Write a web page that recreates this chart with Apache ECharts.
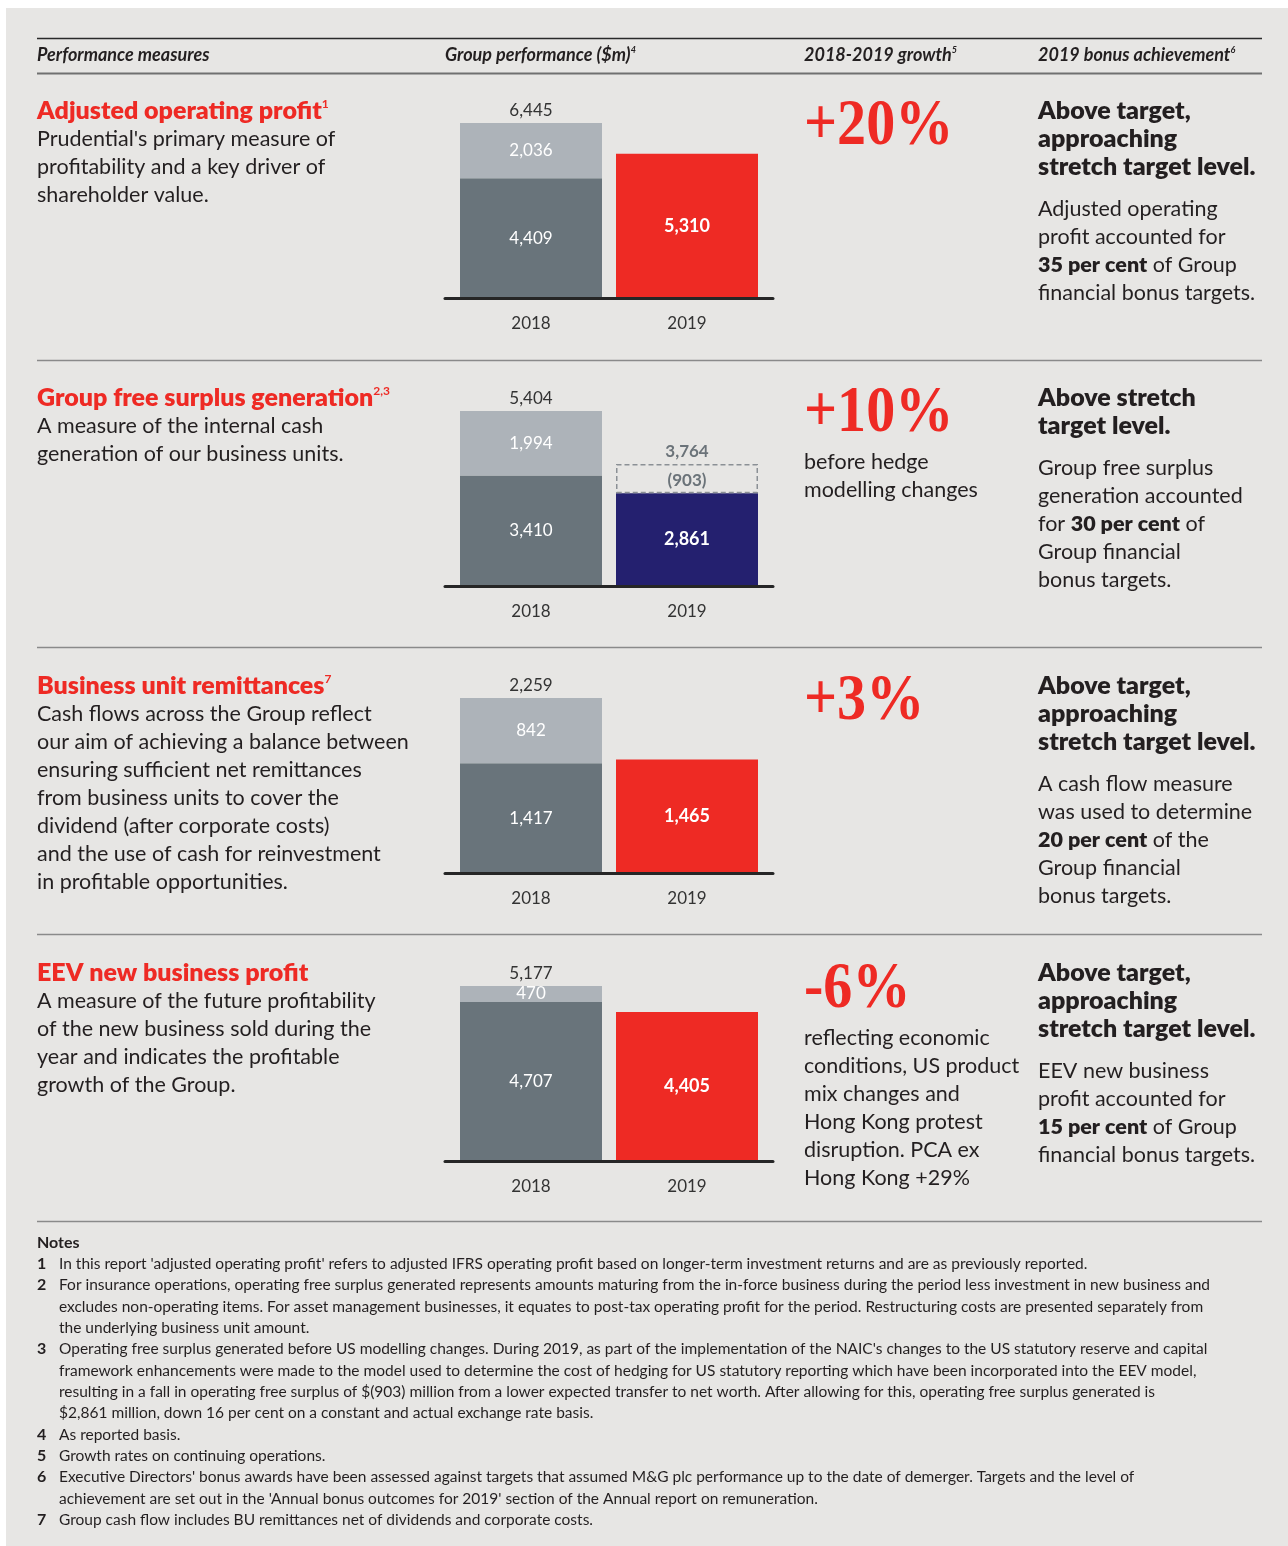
<!DOCTYPE html>
<html>
<head>
<meta charset="utf-8">
<title>Performance measures</title>
<script src="https://cdn.jsdelivr.net/npm/echarts@6/dist/echarts.min.js"></script>
<style>
  html, body { margin: 0; padding: 0; background: #ffffff; }
  #page { position: relative; width: 1288px; height: 1546px; overflow: hidden; }
  #paper { position: absolute; left: 6px; top: 8px; right: 0; bottom: 0; background: #e7e6e4; }
  #main { position: absolute; left: 0; top: 0; width: 1288px; height: 1546px; }
</style>
</head>
<body>
<div id="page">
  <div id="paper"></div>
  <div id="main"></div>
</div>
<script>
// ---- Data ($m) ----
const years = ['2018', '2019'];

// Adjusted operating profit: 2018 split into two parts, 2019 single bar
const aopLower = [4409, 5310];
const aopUpper = [2036, null];

// Group free surplus generation: 2019 shown after hedge modelling change
const fsgLower = [3410, 2861];
const fsgUpper = [1994, null];
const fsgHedge = [null, 903];

// Business unit remittances
const burLower = [1417, 1465];
const burUpper = [842, null];

// EEV new business profit
const eevLower = [4707, 4405];
const eevUpper = [470, null];

// Growth 2018-2019
const growthLabels = ['+20%', '+10%', '+3%', '-6%'];

// ---- Styling ----
const SANS = 'Lato, "Open Sans", "Noto Sans", sans-serif';
const SERIF = '"Liberation Serif", "DejaVu Serif", serif';
const INK = '#231f20';
const RED = '#ee2a24';
const NAVY = '#24206f';
const DARK = '#69747b';
const LIGHT = '#adb3b9';
const DASH = '#8b9095';
const fmt = v => v.toLocaleString('en-US');

const panels = [
  { lower: aopLower, upper: aopUpper, hedge: null, col2019: RED, base: 298 },
  { lower: fsgLower, upper: fsgUpper, hedge: fsgHedge, col2019: NAVY, base: 586 },
  { lower: burLower, upper: burUpper, hedge: null, col2019: RED, base: 873 },
  { lower: eevLower, upper: eevUpper, hedge: null, col2019: RED, base: 1161 }
];
const BAR_H = 175;

const grid = [], xAxis = [], yAxis = [], series = [];

panels.forEach((p, i) => {
  const stackTotal = j => (p.lower[j] || 0) + (p.upper[j] || 0) + (p.hedge ? (p.hedge[j] || 0) : 0);
  const maxTotal = Math.max(stackTotal(0), stackTotal(1));

  // bar grid
  grid.push({ left: 453, width: 312, top: p.base - BAR_H, height: BAR_H });
  xAxis.push({
    type: 'category', gridIndex: i, data: years,
    axisLine: { show: false }, axisTick: { show: false },
    axisLabel: { fontSize: 17, color: '#333', margin: 17, fontFamily: SANS }
  });
  yAxis.push({ type: 'value', gridIndex: i, min: 0, max: maxTotal, show: false, splitLine: { show: false } });

  const stack = 's' + i;
  series.push({
    type: 'bar', xAxisIndex: i, yAxisIndex: i, stack, barWidth: 142,
    data: p.lower.map((v, j) => ({
      value: v,
      itemStyle: { color: j === 0 ? DARK : p.col2019 },
      label: { fontWeight: j === 0 ? 'normal' : 'bold', fontSize: j === 0 ? 17 : 18 }
    })),
    label: { show: true, position: 'inside', color: '#fff', fontSize: 17, fontFamily: SANS, formatter: d => fmt(d.value) }
  });
  series.push({
    type: 'bar', xAxisIndex: i, yAxisIndex: i, stack, barWidth: 142,
    data: p.upper,
    itemStyle: { color: LIGHT },
    label: { show: true, position: 'inside', color: '#fff', fontSize: 17, fontFamily: SANS, formatter: d => fmt(d.value) }
  });
  if (p.hedge) {
    series.push({
      type: 'bar', xAxisIndex: i, yAxisIndex: i, stack, barWidth: 142,
      data: p.hedge,
      itemStyle: { color: 'rgba(0,0,0,0)', borderColor: DASH, borderWidth: 1.5, borderType: [5, 3] },
      label: { show: true, position: 'inside', offset: [0, 2], color: '#6b7379', fontSize: 17, fontWeight: 'bold', fontFamily: SANS,
        formatter: d => '(' + fmt(d.value) + ')' }
    });
  }
  // zero-height cap carrying the stack total above each stacked column
  series.push({
    type: 'bar', xAxisIndex: i, yAxisIndex: i, stack, barWidth: 142,
    data: years.map((y, j) => {
      if (j === 0) return { value: 0 };
      if (p.hedge) return { value: 0, label: { color: '#6b7379', fontWeight: 'bold', distance: 4 } };
      return null;
    }),
    itemStyle: { color: 'rgba(0,0,0,0)' },
    label: { show: true, position: 'top', distance: 4, color: '#333', fontSize: 17, fontFamily: SANS,
      formatter: d => fmt(stackTotal(d.dataIndex)) }
  });
});

// baseline under each chart (slightly wider than the bar area)
panels.forEach((p, i) => {
  const gi = panels.length + i;
  grid.push({ left: 445, width: 328, top: p.base - BAR_H, height: BAR_H });
  xAxis.push({
    type: 'category', gridIndex: gi, data: [''], z: 10,
    axisLine: { show: true, lineStyle: { color: '#262626', width: 3 } },
    axisTick: { show: false }, axisLabel: { show: false }
  });
  yAxis.push({ type: 'value', gridIndex: gi, min: 0, max: 1, show: false, splitLine: { show: false } });
});

// ---- Text blocks ----
const graphics = [];
function text(x, y, str, opt) {
  const o = Object.assign({}, opt || {});
  const scaleX = o.scaleX; delete o.scaleX;
  const style = Object.assign({
    text: str, fill: INK, fontFamily: SANS, fontSize: 21.5, fontWeight: 'normal',
    verticalAlign: 'middle', align: 'left'
  }, o);
  const el = { type: 'text', x, y, z: 20, style };
  if (scaleX) el.scaleX = scaleX;
  graphics.push(el);
}
function rule(y, color, w) {
  graphics.push({ type: 'line', z: 5, shape: { x1: 37, y1: y, x2: 1262, y2: y }, style: { stroke: color, lineWidth: w } });
}

const supStyle = (fill, size) => ({ fontSize: size, fontFamily: SANS, fontWeight: 'bold', fill, verticalAlign: 'top' });

// header
rule(38.5, '#2a2a2a', 1.5);
rule(73.5, '#707070', 2);
const headStyle = { fontSize: 18, fontWeight: 'bold', fontStyle: 'italic', rich: { sup: Object.assign(supStyle(INK, 9), { fontStyle: 'italic' }) } };
text(37, 55, 'Performance measures', headStyle);
text(445, 55, 'Group performance ($m){sup|4}', headStyle);
text(804, 55, '2018-2019 growth{sup|5}', headStyle);
text(1038, 55, '2019 bonus achievement{sup|6}', headStyle);

[360.5, 647.5, 934.5, 1221.5].forEach(y => rule(y, '#8a8a8a', 1.5));

const sections = [
  {
    y: 111, growthY: 125,
    title: 'Adjusted operating profit{sup|1}',
    desc: ["Prudential's primary measure of", 'profitability and a key driver of', 'shareholder value.'],
    sub: [],
    bold: ['Above target,', 'approaching', 'stretch target level.'],
    body: ['Adjusted operating', 'profit accounted for', '{b|35 per cent} of Group', 'financial bonus targets.']
  },
  {
    y: 398, growthY: 412,
    title: 'Group free surplus generation{sup|2,3}',
    desc: ['A measure of the internal cash', 'generation of our business units.'],
    sub: ['before hedge', 'modelling changes'],
    bold: ['Above stretch', 'target level.'],
    body: ['Group free surplus', 'generation accounted', 'for {b|30 per cent} of', 'Group financial', 'bonus targets.']
  },
  {
    y: 686, growthY: 700,
    title: 'Business unit remittances{sup|7}',
    desc: ['Cash flows across the Group reflect', 'our aim of achieving a balance between', 'ensuring sufficient net remittances',
      'from business units to cover the', 'dividend (after corporate costs)', 'and the use of cash for reinvestment', 'in profitable opportunities.'],
    sub: [],
    bold: ['Above target,', 'approaching', 'stretch target level.'],
    body: ['A cash flow measure', 'was used to determine', '{b|20 per cent} of the', 'Group financial', 'bonus targets.']
  },
  {
    y: 973, growthY: 988,
    title: 'EEV new business profit',
    desc: ['A measure of the future profitability', 'of the new business sold during the', 'year and indicates the profitable', 'growth of the Group.'],
    sub: ['reflecting economic', 'conditions, US product', 'mix changes and', 'Hong Kong protest', 'disruption. PCA ex', 'Hong Kong +29%'],
    bold: ['Above target,', 'approaching', 'stretch target level.'],
    body: ['EEV new business', 'profit accounted for', '{b|15 per cent} of Group', 'financial bonus targets.']
  }
];
const LH = 28;
const bodyRich = { b: { fontSize: 21.5, fontFamily: SANS, fontWeight: 800, fill: INK } };

sections.forEach((s, i) => {
  text(37, s.y, s.title, { fontSize: 25, fontWeight: 800, fill: RED, rich: { sup: supStyle(RED, 12) } });
  s.desc.forEach((l, k) => text(37, s.y + LH * (k + 1), l));
  text(804, s.growthY + 2, growthLabels[i], { fontFamily: SERIF, fontSize: 66, fontWeight: 'bold', fill: RED, scaleX: 0.88 });
  s.sub.forEach((l, k) => text(804, s.growthY + 50 + LH * k, l));
  s.bold.forEach((l, k) => text(1038, s.y + LH * k, l, { fontSize: 25, fontWeight: 800 }));
  const bodyTop = s.y + LH * (s.bold.length - 1) + 42;
  s.body.forEach((l, k) => text(1038, bodyTop + LH * k, l, { rich: bodyRich }));
});

// notes
const notes = [
  ['1', ["In this report 'adjusted operating profit' refers to adjusted IFRS operating profit based on longer-term investment returns and are as previously reported."]],
  ['2', ['For insurance operations, operating free surplus generated represents amounts maturing from the in-force business during the period less investment in new business and',
         'excludes non-operating items. For asset management businesses, it equates to post-tax operating profit for the period. Restructuring costs are presented separately from',
         'the underlying business unit amount.']],
  ['3', ["Operating free surplus generated before US modelling changes. During 2019, as part of the implementation of the NAIC's changes to the US statutory reserve and capital",
         'framework enhancements were made to the model used to determine the cost of hedging for US statutory reporting which have been incorporated into the EEV model,',
         'resulting in a fall in operating free surplus of $(903) million from a lower expected transfer to net worth. After allowing for this, operating free surplus generated is',
         '$2,861 million, down 16 per cent on a constant and actual exchange rate basis.']],
  ['4', ['As reported basis.']],
  ['5', ['Growth rates on continuing operations.']],
  ['6', ["Executive Directors' bonus awards have been assessed against targets that assumed M&G plc performance up to the date of demerger. Targets and the level of",
         "achievement are set out in the 'Annual bonus outcomes for 2019' section of the Annual report on remuneration."]],
  ['7', ['Group cash flow includes BU remittances net of dividends and corporate costs.']]
];
text(37, 1243, 'Notes', { fontSize: 16, fontWeight: 'bold' });
let ny = 1264;
const NLH = 21.33;
notes.forEach(([num, lines]) => {
  text(37, ny, num, { fontSize: 16, fontWeight: 'bold' });
  lines.forEach((l, k) => text(59, ny + NLH * k, l, { fontSize: 15.5 }));
  ny += NLH * lines.length;
});

const chart = echarts.init(document.getElementById('main'), null, { renderer: 'canvas', width: 1288, height: 1546 });
chart.setOption({
  animation: false,
  backgroundColor: 'transparent',
  textStyle: { fontFamily: SANS },
  grid, xAxis, yAxis, series,
  graphic: { elements: graphics }
});
</script>
</body>
</html>
